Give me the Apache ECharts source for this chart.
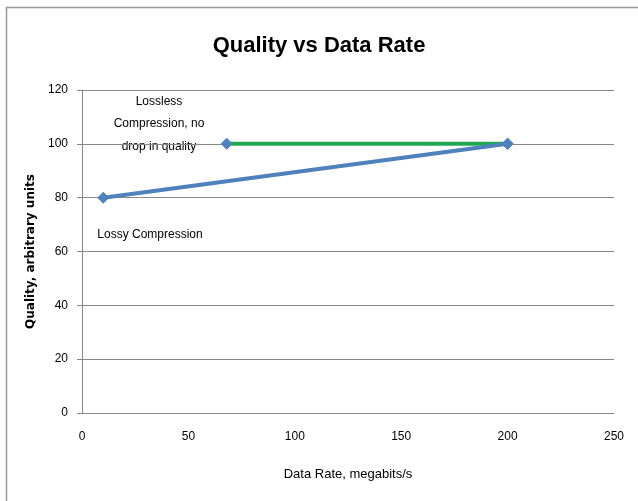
<!DOCTYPE html>
<html><head><meta charset="utf-8">
<script src="https://cdn.jsdelivr.net/npm/echarts@6/dist/echarts.min.js"></script>
<style>html,body{margin:0;padding:0;background:#fff}#c{width:638px;height:501px}</style>
</head><body><div id="c"></div>
<script>
const titleText = 'Quality vs Data Rate';
const xName = 'Data Rate, megabits/s';
const yName = 'Quality, arbitrary units';
const lossyX = [10, 200];
const lossyY = [80, 100];
const losslessX = [68, 200];
const losslessY = [100, 100];
const noteLossless = 'Lossless\nCompression, no\ndrop in quality';
const noteLossy = 'Lossy Compression';

const FONT = '"Liberation Sans", Arial, sans-serif';
const chart = echarts.init(document.getElementById('c'), null, {renderer: 'canvas'});
chart.setOption({
  animation: false,
  backgroundColor: '#fff',
  title: {text: titleText, left: 'center', top: 30,
    textStyle: {fontFamily: FONT, fontSize: 22, fontWeight: 'bold', color: '#000'}},
  grid: {left: 82, right: 24, top: 90, bottom: 88},
  xAxis: {type: 'value', min: 0, max: 250, interval: 50,
    name: xName, nameLocation: 'middle', nameGap: 55,
    nameTextStyle: {fontFamily: FONT, fontSize: 13, color: '#000'},
    axisLine: {show: true, lineStyle: {color: '#888', width: 1}},
    axisTick: {show: false},
    splitLine: {show: false},
    axisLabel: {fontFamily: FONT, fontSize: 12, color: '#000', margin: 18}},
  yAxis: {type: 'value', min: 0, max: 120, interval: 20,
    name: yName, nameLocation: 'middle', nameGap: 43,
    nameTextStyle: {fontFamily: '"DejaVu Sans", sans-serif', fontSize: 12, color: '#000', fontWeight: 'bold'},
    axisLine: {show: true, lineStyle: {color: '#888', width: 1}},
    axisTick: {show: true, length: 5, lineStyle: {color: '#888'}},
    splitLine: {show: true, lineStyle: {color: '#888', width: 1}},
    axisLabel: {fontFamily: FONT, fontSize: 12, color: '#000', margin: 14}},
  series: [
    {type: 'line', data: lossyX.map((x, i) => [x, lossyY[i]]),
      symbol: 'diamond', symbolSize: 12,
      lineStyle: {color: '#4F81BD', width: 4},
      itemStyle: {color: '#4F81BD'}, z: 3},
    {type: 'line', data: losslessX.map((x, i) => [x, losslessY[i]]),
      symbol: 'diamond', symbolSize: 12,
      lineStyle: {color: '#1FA84F', width: 4},
      itemStyle: {color: '#4F81BD'}, z: 2}
  ],
  graphic: [
    {type: 'polyline', shape: {points: [[6.5, 501], [6.5, 7.5], [638, 7.5]]},
      style: {stroke: '#999', lineWidth: 1.5, fill: null}},
    {type: 'text', x: 159, y: 124, style: {text: noteLossless, font: '12px ' + FONT,
      fill: '#000', textAlign: 'center', textVerticalAlign: 'middle', lineHeight: 22.5}},
    {type: 'text', x: 150, y: 235, style: {text: noteLossy, font: '12px ' + FONT,
      fill: '#000', textAlign: 'center', textVerticalAlign: 'middle'}}
  ]
});
</script></body></html>
